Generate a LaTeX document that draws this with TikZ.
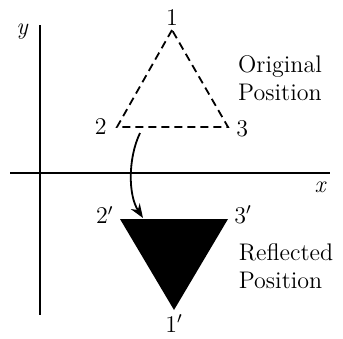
\documentclass[tikz,border=0pt]{standalone}
\usetikzlibrary{arrows.meta,positioning}

\begin{document}
\begin{tikzpicture}[
            x=0.5pt, y=-0.5pt,
            axis/.style={line width=1pt},
            vlabel/.style={font=\large, inner sep=1pt},
            caption/.style={font=\large, align=left, inner sep=0pt},
            >=Stealth
        ]
        \useasboundingbox (0,0) rectangle (343,338);

        % axes
        \coordinate (ytop) at (40,25);
        \coordinate (ybot) at (40,315);
        \coordinate (xleft) at (10,173);
        \coordinate (xright) at (330,173);
        \draw[axis] (ytop) -- (ybot);
        \draw[axis] (xleft) -- (xright);
        \node[font=\large\itshape] (ylab) at (22,32) {y};
        \node[font=\large\itshape] (xlab) at (320,187) {x};

        % original triangle
        \coordinate (p1) at (172,30);
        \coordinate (p2) at (117,127);
        \coordinate (p3) at (228,127);
        \draw[line width=0.9pt, dash pattern=on 4pt off 2.5pt] (p1) -- (p2) -- (p3) -- cycle;
        \node[vlabel, above=1pt of p1] (l1) {1};
        \node[vlabel, left=4pt of p2] (l2) {2};
        \node[vlabel, right=3pt of p3, yshift=-1pt] (l3) {3};
        \node[caption] (orig) at (280,78) {Original\\Position};

        % reflected triangle
        \coordinate (q1) at (174,310);
        \coordinate (q2) at (120,219);
        \coordinate (q3) at (228,219);
        \fill[black] (q1) -- (q2) -- (q3) -- cycle;
        \node[vlabel, below=1pt of q1] (m1) {1$'$};
        \node[vlabel, left=2pt of q2, yshift=2pt] (m2) {2$'$};
        \node[vlabel, right=2pt of q3, yshift=2pt] (m3) {3$'$};
        \node[caption] (refl) at (286,266) {Reflected\\Position};

        % reflection arrow
        \coordinate (as) at (140,133);
        \coordinate (ae) at (143,218);
        \draw[->, line width=0.9pt] (as) .. controls (128,158) and (128,195) .. (ae);
    \end{tikzpicture}
\end{document}
